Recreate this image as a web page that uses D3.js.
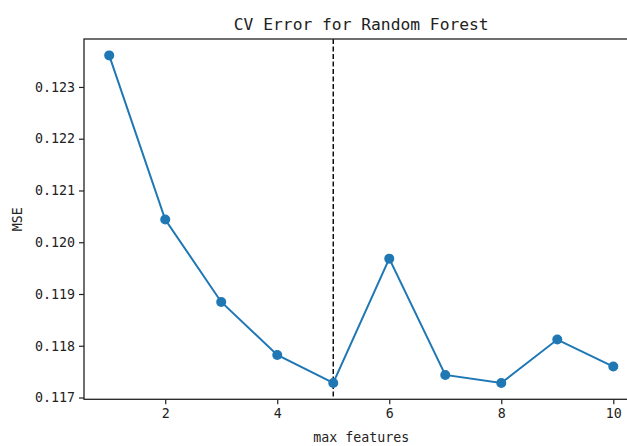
<!DOCTYPE html>
<html>
<head>
<meta charset="utf-8">
<script src="https://cdn.jsdelivr.net/npm/d3@7"></script>
<style>
body{margin:0;background:#fff;}
svg{display:block;}
text{font-family:"DejaVu Sans Mono","Liberation Mono",monospace;fill:#222;}
</style>
</head>
<body>
<svg id="chart" width="627" height="446"></svg>
<script>
const maxFeatures = [1,2,3,4,5,6,7,8,9,10];
const mseValues = [0.12361,0.12044,0.118846,0.117822,0.117282,0.119683,0.117436,0.117282,0.11812,0.117598];
const bestFeature = 5;
const xTicks = [2,4,6,8,10];
const yTicks = [0.117,0.118,0.119,0.120,0.121,0.122,0.123];
const titleText = "CV Error for Random Forest";
const xLabel = "max features";
const yLabel = "MSE";

const svg = d3.select("#chart");
const pLeft = 84, pRight = 638.5, pTop = 39, pBottom = 399.3;
const fontFam = '"DejaVu Sans Mono","Liberation Mono",monospace';

const yMin = d3.min(mseValues), yMax = d3.max(mseValues);
const ym = (yMax - yMin) * 0.05;
const x = d3.scaleLinear().domain([0.55, 10.45]).range([pLeft, pRight]);
const y = d3.scaleLinear().domain([yMin - ym, yMax + ym]).range([pBottom, pTop]);

const g = svg.append("g");

// dashed vertical line
g.append("line")
  .attr("x1", x(bestFeature)).attr("x2", x(bestFeature))
  .attr("y1", pTop).attr("y2", pBottom)
  .attr("stroke", "#000").attr("stroke-width", 1.4)
  .attr("stroke-dasharray", "5,2.5");

// line
const line = d3.line().x((d,i)=>x(maxFeatures[i])).y(d=>y(d));
g.append("path").datum(mseValues)
  .attr("d", line).attr("fill","none")
  .attr("stroke","#1f77b4").attr("stroke-width",2);

g.selectAll("circle.pt").data(mseValues).enter().append("circle")
  .attr("class","pt")
  .attr("cx",(d,i)=>x(maxFeatures[i])).attr("cy",d=>y(d))
  .attr("r",5).attr("fill","#1f77b4");

// axes
const xAxis = d3.axisBottom(x).tickValues(xTicks).tickSize(5).tickPadding(4).tickFormat(d3.format("d"));
const yAxis = d3.axisLeft(y).tickValues(yTicks).tickSize(5).tickPadding(4).tickFormat(d3.format(".3f"));

const gx = svg.append("g").attr("transform",`translate(0,${pBottom})`).call(xAxis);
const gy = svg.append("g").attr("transform",`translate(${pLeft},0)`).call(yAxis);
[gx,gy].forEach(a=>{
  a.select(".domain").remove();
  a.selectAll(".tick line").attr("stroke","#222").attr("stroke-width",1.2);
  a.selectAll(".tick text").attr("font-size",13.3).attr("fill","#222")
    .style("font-family",fontFam);
});

// spines
svg.append("rect").attr("x",pLeft).attr("y",pTop)
  .attr("width",pRight-pLeft).attr("height",pBottom-pTop)
  .attr("fill","none").attr("stroke","#222").attr("stroke-width",1.3);

// title
svg.append("text").attr("x",(pLeft+pRight)/2).attr("y",30)
  .attr("text-anchor","middle").attr("font-size",16.3).attr("fill","#111")
  .text(titleText);

svg.append("text").attr("x",(pLeft+pRight)/2).attr("y",442)
  .attr("text-anchor","middle").attr("font-size",13.3).attr("fill","#222")
  .text(xLabel);

svg.append("text").attr("transform",`translate(22,${(pTop+pBottom)/2}) rotate(-90)`)
  .attr("text-anchor","middle").attr("font-size",13.3).attr("fill","#222")
  .text(yLabel);
</script>
</body>
</html>
